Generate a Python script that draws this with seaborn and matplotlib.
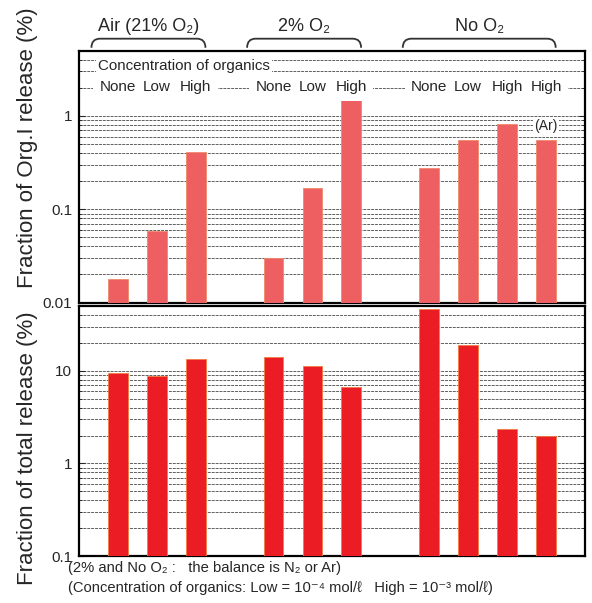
import numpy as np
import pandas as pd
import matplotlib
matplotlib.use('Agg')
import matplotlib.pyplot as plt
from matplotlib.path import Path
from matplotlib.patches import PathPatch
import matplotlib.transforms as mtransforms
import seaborn as sns

# data
groups = ['Air (21% O₂)', '2% O₂', 'No O₂']
bar_group = [0, 0, 0, 1, 1, 1, 2, 2, 2, 2]
organics = ['None', 'Low', 'High', 'None', 'Low', 'High', 'None', 'Low', 'High', 'High']
bar_notes = ['', '', '', '', '', '', '', '', '', '(Ar)']
org_release = [0.018, 0.058, 0.41, 0.030, 0.170, 1.57, 0.28, 0.55, 0.83, 0.55]
total_release = [9.5, 8.8, 13.5, 14.2, 11.2, 6.7, 46.0, 19.1, 2.35, 2.0]

top_ticks = [0.01, 0.1, 1]
bottom_ticks = [0.1, 1, 10]

df = pd.DataFrame({'group': bar_group, 'organics': organics, 'note': bar_notes,
                   'org': org_release, 'total': total_release})
# one empty slot between groups
df['slot'] = df.groupby('group').cumcount()
df['pos'] = df['group'] * 4 + df['slot']

sns.set_style('white')
plt.rcParams['font.family'] = ['Liberation Sans', 'DejaVu Sans']

fig = plt.figure(figsize=(5.92, 6.03), dpi=100)
ax_top = fig.add_axes([0.1334, 0.4982, 0.8546, 0.4176])
ax_bot = fig.add_axes([0.1334, 0.0779, 0.8546, 0.4146])

grid_kw = dict(color='#5e5e5e', linestyle=(0, (3, 1)), linewidth=0.7)


def style_axis(ax, ticks, lims):
    ax.set_yscale('log')
    ax.set_ylim(*lims)
    ax.set_xlim(-1, 12)
    ax.set_axisbelow(True)
    ax.grid(True, which='both', axis='y', **grid_kw)
    ax.grid(False, axis='x')
    ax.set_yticks(ticks)
    ax.set_yticklabels([f'{t:g}' for t in ticks], fontsize=11)
    ax.set_xticks([])
    ax.set_xlabel('')
    ax.tick_params(axis='y', which='both', direction='in', left=True, right=True, pad=5)
    ax.tick_params(axis='y', which='major', length=4, width=0.8)
    ax.tick_params(axis='y', which='minor', length=2, width=0.6)
    for s in ax.spines.values():
        s.set_visible(True)
        s.set_color('black')
        s.set_linewidth(1.6)


ax_top.set_yscale('log')
sns.barplot(data=df, x='pos', y='org', native_scale=True, width=0.51, color='#EE5F62',
            saturation=1, errorbar=None, edgecolor='#F08A6A', linewidth=0.6, ax=ax_top, zorder=3)
style_axis(ax_top, top_ticks, (0.01, 5))
ax_top.set_ylabel('Fraction of Org.I release (%)', fontsize=16)

ax_bot.set_yscale('log')
sns.barplot(data=df, x='pos', y='total', native_scale=True, width=0.51, color='#EC1C24',
            saturation=1, errorbar=None, edgecolor='#F07A40', linewidth=0.6, ax=ax_bot, zorder=3)
style_axis(ax_bot, bottom_ticks, (0.1, 50))
ax_bot.set_ylabel('Fraction of total release (%)', fontsize=16)

ax_top.yaxis.set_label_coords(-0.081, 0.614)
ax_bot.yaxis.set_label_coords(-0.081, 0.432)

# organics labels over each bar (white box hides the grid)
lab_box = dict(facecolor='white', edgecolor='none', pad=4.5)
for _, r in df.iterrows():
    ax_top.text(r['pos'], 0.855, r['organics'], transform=ax_top.get_xaxis_transform(),
                ha='center', va='center', fontsize=11, bbox=lab_box, zorder=5)
    if r['note']:
        ax_top.annotate(r['note'], (r['pos'], r['org']), xytext=(0, 10),
                        textcoords='offset points', ha='center', va='center', fontsize=10,
                        bbox=dict(facecolor='white', edgecolor='none', pad=1), zorder=5)
ax_top.text(-0.5, 0.94, 'Concentration of organics', transform=ax_top.get_xaxis_transform(),
            ha='left', va='center', fontsize=10.9,
            bbox=dict(facecolor='white', edgecolor='none', pad=1.5), zorder=6)

# group labels with curved brackets above the top panel
trans = mtransforms.blended_transform_factory(ax_top.transData, ax_top.transAxes)
for g, name in enumerate(groups):
    p = df.loc[df['group'] == g, 'pos']
    x0, x1 = p.min() - 0.68, p.max() + 0.25
    y0, y1, r = 1.012, 1.048, 0.22
    verts = [(x0, y0), (x0, y1), (x0 + r, y1), (x1 - r, y1), (x1, y1), (x1, y0)]
    codes = [Path.MOVETO, Path.CURVE3, Path.CURVE3, Path.LINETO, Path.CURVE3, Path.CURVE3]
    ax_top.add_patch(PathPatch(Path(verts, codes), transform=trans, facecolor='none',
                               edgecolor='#333333', linewidth=1.3, clip_on=False))
    ax_top.text((x0 + x1) / 2, 1.095, name, transform=trans, ha='center', va='center',
                fontsize=13)

fig.text(68 / 592, 1 - 568 / 603, '(2% and No O₂ :   the balance is N₂ or Ar)',
         ha='left', va='center', fontsize=10.6)
fig.text(68 / 592, 1 - 588 / 603,
         '(Concentration of organics: Low = 10⁻⁴ mol/ℓ   High = 10⁻³ mol/ℓ)',
         ha='left', va='center', fontsize=10.6)

fig.savefig('out.png', dpi=100)
